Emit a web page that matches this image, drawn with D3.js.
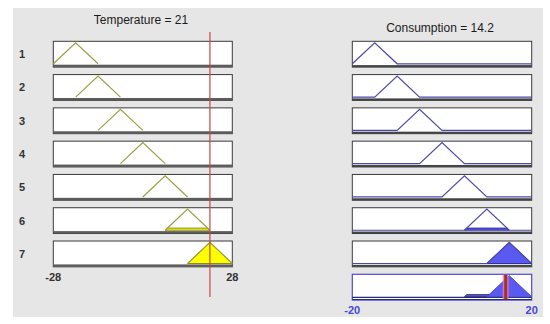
<!DOCTYPE html>
<html><head><meta charset="utf-8">
<script src="https://cdn.jsdelivr.net/npm/d3@7"></script>
<style>body{margin:0;background:#fff;}svg{display:block;}</style>
</head><body>
<svg id="c" width="550" height="324"></svg>
<script>
// ---- data ----
const rules = [1, 2, 3, 4, 5, 6, 7];
const tempMF = [[-28,-21,-14],[-21,-14,-7],[-14,-7,0],[-7,0,7],[0,7,14],[7,14,21],[14,21,28]];
const consMF = [[-20,-15,-10],[-15,-10,-5],[-10,-5,0],[-5,0,5],[0,5,10],[5,10,15],[10,15,20]];
const firing = [0, 0, 0, 0, 0, 0.1, 1];
const tempRange = [-28, 28];
const consRange = [-20, 20];
const tempValue = 21;
const consValue = 14.2;
const tempTitle = "Temperature = 21";
const consTitle = "Consumption = 14.2";

// ---- layout ----
const svg = d3.select("#c");
svg.append("rect").attr("x",13).attr("y",8).attr("width",530).attr("height",309).attr("fill","#e6e6e6");

const rowScale = d3.scaleBand().domain([1,2,3,4,5,6,7,8]).range([41.3, 300.1]).paddingInner(0.225).paddingOuter(0);
const xT = d3.scaleLinear().domain(tempRange).range([53.3, 232.3]);
const xC = d3.scaleLinear().domain(consRange).range([352.3, 531.7]);
const bh = rowScale.bandwidth();
const font = "'Liberation Sans', Arial, sans-serif";

function yMu(r){
  const T = rowScale(r);
  return d3.scaleLinear().domain([0,1]).range([T + bh - 3.3, T + 1.4]);
}
function clipped(mf, mu){
  const [a,b,c] = mf;
  if (mu >= 1) return [[a,0],[b,1],[c,0]];
  return [[a,0],[a+mu*(b-a),mu],[c-mu*(c-b),mu],[c,0]];
}

// titles
svg.append("text").attr("x",141).attr("y",24).attr("text-anchor","middle")
  .attr("font-family",font).attr("font-size",12).attr("fill","#1a1a1a").text(tempTitle);
svg.append("text").attr("x",440).attr("y",31.5).attr("text-anchor","middle")
  .attr("font-family",font).attr("font-size",12).attr("fill","#1a1a1a").text(consTitle);

rules.forEach((r, i) => {
  const T = rowScale(r);
  const y = yMu(r);
  // row label
  svg.append("text").attr("x",22).attr("y",T + bh/2 + 4).attr("text-anchor","middle")
    .attr("font-family",font).attr("font-size",11).attr("font-weight","bold").attr("fill","#333").text(r);

  // ---- temperature box ----
  const x0 = xT.range()[0], x1 = xT.range()[1];
  svg.append("rect").attr("x",x0).attr("y",T).attr("width",x1-x0).attr("height",bh)
    .attr("fill","#fff").attr("stroke","#3a3a3a").attr("stroke-width",1);
  svg.append("rect").attr("x",x0).attr("y",T+bh-2.4).attr("width",x1-x0).attr("height",2.4).attr("fill","#5c5c5c");
  const line = d3.line().x(d=>xT(d[0])).y(d=>y(d[1]));
  if (firing[i] > 0) {
    svg.append("path").attr("d", line(clipped(tempMF[i], firing[i])) + "Z")
      .attr("fill","#ffff00").attr("stroke","#8a8a2a").attr("stroke-width",1);
  }
  svg.append("path").attr("d", line([[tempMF[i][0],0],[tempMF[i][1],1],[tempMF[i][2],0]]))
    .attr("fill","none").attr("stroke","#9e9e44").attr("stroke-width",1.2);

  // ---- consumption box ----
  const c0 = xC.range()[0], c1 = xC.range()[1];
  svg.append("rect").attr("x",c0).attr("y",T).attr("width",c1-c0).attr("height",bh)
    .attr("fill","#fff").attr("stroke","#3a3a3a").attr("stroke-width",1);
  svg.append("rect").attr("x",c0).attr("y",T+bh-2).attr("width",c1-c0).attr("height",2).attr("fill","#444");
  const lineC = d3.line().x(d=>xC(d[0])).y(d=>y(d[1]));
  if (firing[i] > 0) {
    svg.append("path").attr("d", lineC(clipped(consMF[i], firing[i])) + "Z")
      .attr("fill","#5a5af0").attr("stroke","#3030a0").attr("stroke-width",1);
  }
  svg.append("path").attr("d", lineC([[consRange[0],0],[consMF[i][0],0],[consMF[i][1],1],[consMF[i][2],0],[consRange[1],0]]))
    .attr("fill","none").attr("stroke","#4a4aa8").attr("stroke-width",1.2);
});

// ---- aggregate box ----
{
  const r = 8, T = rowScale(r), y = yMu(r);
  const c0 = xC.range()[0], c1 = xC.range()[1];
  svg.append("rect").attr("x",c0).attr("y",T).attr("width",c1-c0).attr("height",bh)
    .attr("fill","#fff").attr("stroke","#4a4ad0").attr("stroke-width",1.2);
  const lineC = d3.line().x(d=>xC(d[0])).y(d=>y(d[1]));
  svg.append("line").attr("x1",c0).attr("x2",c1).attr("y1",y(0)+0.5).attr("y2",y(0)+0.5)
    .attr("stroke","#2a2a70").attr("stroke-width",1.2);
  rules.forEach((rr,i)=>{
    if (firing[i] > 0) {
      svg.append("path").attr("d", lineC(clipped(consMF[i], firing[i])) + "Z")
        .attr("fill","#5a5af0").attr("stroke", firing[i] < 0.5 ? "#28286a" : "#4a4ad0").attr("stroke-width",1);
    }
  });
  svg.append("line").attr("x1",c0).attr("x2",c1).attr("y1",T+bh-0.6).attr("y2",T+bh-0.6)
    .attr("stroke","#2a2a70").attr("stroke-width",1);
  const xv = xC(consValue);
  svg.append("line").attr("x1",xv).attr("x2",xv).attr("y1",T+0.5).attr("y2",T+bh-1)
    .attr("stroke","#f070d0").attr("stroke-width",6).attr("opacity",0.8);
  svg.append("line").attr("x1",xv).attr("x2",xv).attr("y1",T+0.5).attr("y2",T+bh-1)
    .attr("stroke","#9a3a1a").attr("stroke-width",3);
}

// red input line
svg.append("line").attr("x1",xT(tempValue)).attr("x2",xT(tempValue)).attr("y1",32).attr("y2",297)
  .attr("stroke","#c8463c").attr("stroke-width",1.2);

// tick labels
const lastT = rowScale(7) + bh;
svg.selectAll(".tt").data(tempRange).enter().append("text")
  .attr("x",d=>xT(d)).attr("y",lastT+14.5).attr("text-anchor","middle")
  .attr("font-family",font).attr("font-size",11).attr("font-weight","bold").attr("fill","#333").text(d=>d);
const lastC = rowScale(8) + bh;
svg.selectAll(".tc").data(consRange).enter().append("text")
  .attr("x",d=>xC(d)).attr("y",lastC+14).attr("text-anchor","middle")
  .attr("font-family",font).attr("font-size",11).attr("font-weight","bold").attr("fill","#4646d8").text(d=>d);
</script>
</body></html>
